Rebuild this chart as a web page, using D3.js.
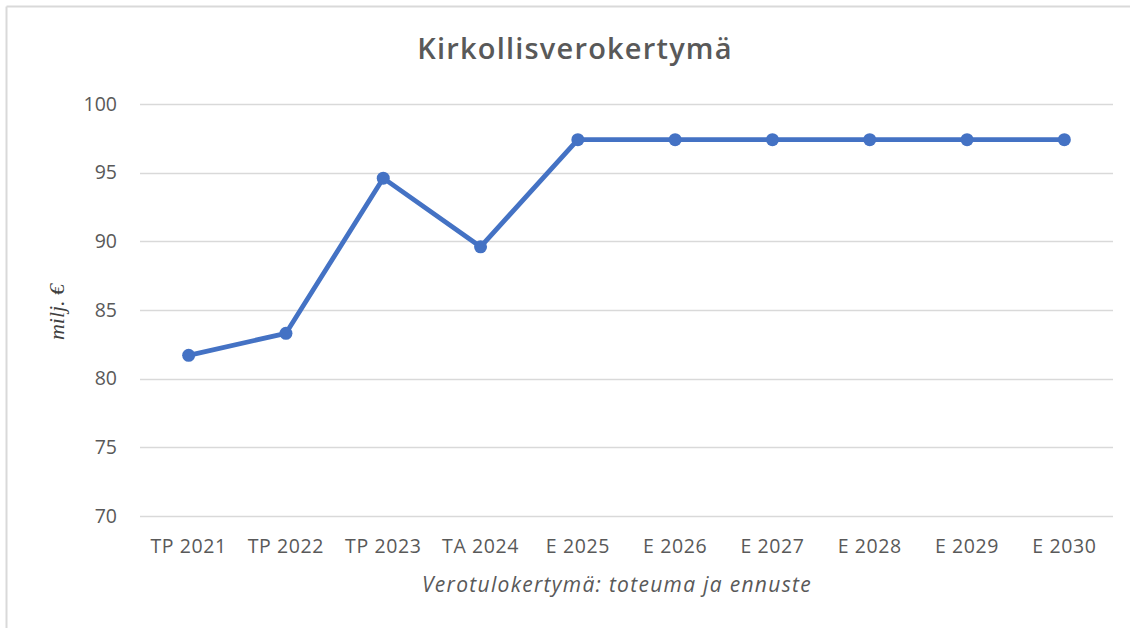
<!DOCTYPE html>
<html>
<head>
<meta charset="utf-8">
<script src="https://cdn.jsdelivr.net/npm/d3@7"></script>
<style>
  body { margin: 0; background: #fff; }
  text { font-family: "Open Sans", "Noto Sans", sans-serif; }
</style>
</head>
<body>
<div id="container"></div>
<script>
/* DATA */
const categories = ["TP 2021", "TP 2022", "TP 2023", "TA 2024", "E 2025", "E 2026", "E 2027", "E 2028", "E 2029", "E 2030"];
const values = [81.7, 83.3, 94.6, 89.6, 97.4, 97.4, 97.4, 97.4, 97.4, 97.4];
const yTicks = [70, 75, 80, 85, 90, 95, 100];

/* CONSTANTS */
const width = 1130,
  height = 628,
  margin = { top: 104, bottom: 112, left: 140, right: 17 };

const svg = d3.select("#container")
  .append("svg")
  .attr("width", width)
  .attr("height", height);

// chart frame (only top & left edges are visible in the crop)
svg.append("line")
  .attr("x1", 6.5).attr("x2", width).attr("y1", 6.5).attr("y2", 6.5)
  .attr("stroke", "#d9d9d9").attr("stroke-width", 2);
svg.append("line")
  .attr("x1", 6.5).attr("x2", 6.5).attr("y1", 6.5).attr("y2", height)
  .attr("stroke", "#d9d9d9").attr("stroke-width", 2);

// SCALES
const x = d3.scaleBand()
  .domain(categories)
  .range([margin.left, width - margin.right])
  .padding(0);

const y = d3.scaleLinear()
  .domain([70, 100])
  .range([height - margin.bottom, margin.top]);

// GRIDLINES
svg.append("g")
  .selectAll("line")
  .data(yTicks)
  .join("line")
  .attr("x1", margin.left)
  .attr("x2", width - margin.right)
  .attr("y1", d => Math.round(y(d)) + 0.5)
  .attr("y2", d => Math.round(y(d)) + 0.5)
  .attr("stroke", "#d9d9d9")
  .attr("stroke-width", 1.5);

// Y AXIS
const yAxis = svg.append("g")
  .attr("transform", `translate(${margin.left - 23},0)`)
  .call(d3.axisLeft(y).tickValues(yTicks).tickSize(0).tickPadding(0));
yAxis.select(".domain").remove();
yAxis.selectAll("text")
  .style("font-size", "19.5px")
  .style("fill", "#595959");

// X AXIS
const xAxis = svg.append("g")
  .attr("transform", `translate(0,${height - margin.bottom})`)
  .call(d3.axisBottom(x).tickSize(0).tickPadding(23));
xAxis.select(".domain").remove();
xAxis.selectAll("text")
  .style("font-size", "19.5px")
  .style("letter-spacing", "0.6px")
  .style("fill", "#595959");

// LINE
const line = d3.line()
  .x((d, i) => x(categories[i]) + x.bandwidth() / 2)
  .y(d => y(d));

svg.append("path")
  .datum(values)
  .attr("d", line)
  .attr("fill", "none")
  .attr("stroke", "#4472c4")
  .attr("stroke-width", 4.8)
  .attr("stroke-linejoin", "round");

svg.selectAll("circle.pt")
  .data(values)
  .join("circle")
  .attr("class", "pt")
  .attr("cx", (d, i) => x(categories[i]) + x.bandwidth() / 2)
  .attr("cy", d => y(d))
  .attr("r", 6.5)
  .attr("fill", "#4472c4");

// TITLE
svg.append("text")
  .attr("x", 575)
  .attr("y", 59)
  .attr("text-anchor", "middle")
  .style("font-size", "29px")
  .style("font-weight", "600")
  .style("letter-spacing", "1.2px")
  .style("fill", "#595959")
  .text("Kirkollisverokertymä");

// AXIS TITLES
svg.append("text")
  .attr("transform", "translate(64,312) rotate(-90)")
  .attr("text-anchor", "middle")
  .style("font-family", "'Liberation Serif', 'DejaVu Serif', serif")
  .style("font-style", "italic")
  .style("font-size", "22px")
  .style("fill", "#404040")
  .text("milj. €");

svg.append("text")
  .attr("x", 617)
  .attr("y", 592)
  .attr("text-anchor", "middle")
  .style("font-style", "italic")
  .style("font-size", "21px")
  .style("letter-spacing", "1.3px")
  .style("fill", "#595959")
  .text("Verotulokertymä: toteuma ja ennuste");
</script>
</body>
</html>
